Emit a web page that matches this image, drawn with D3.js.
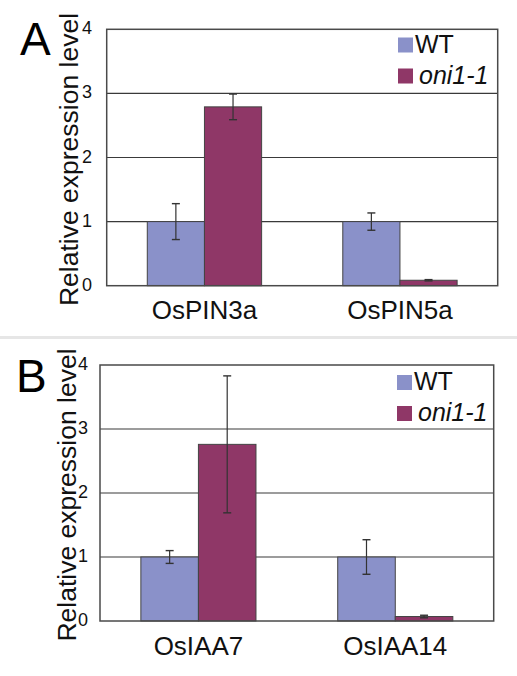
<!DOCTYPE html>
<html><head><meta charset="utf-8">
<script src="https://cdn.jsdelivr.net/npm/d3@7"></script>
<style>body{margin:0;background:#fff}svg{display:block}text{font-family:"Liberation Sans",Arial,Helvetica,sans-serif}</style>
</head><body>
<svg id="c" width="517" height="676"></svg>
<script>
const seriesNames = ["WT", "oni1-1"];
const colors = ["#8a91c9", "#8f3767"];
const yTicks = [0, 1, 2, 3, 4];
const categoriesA = ["OsPIN3a", "OsPIN5a"];
const wtA = [1.0, 1.0];
const wtErrA = [0.28, 0.135];
const oniA = [2.79, 0.085];
const oniErrA = [0.2, 0.01];
const categoriesB = ["OsIAA7", "OsIAA14"];
const wtB = [1.0, 1.0];
const wtErrB = [0.1, 0.27];
const oniB = [2.76, 0.07];
const oniErrB = [1.07, 0.02];

const svg = d3.select("#c");
svg.append("rect").attr("x", 0).attr("y", 336).attr("width", 517).attr("height", 3).attr("fill", "#e6e6e6");

function panel(cfg) {
  const g = svg.append("g");
  const x = d3.scaleBand().domain(cfg.cats).range([cfg.x0, cfg.x1]);
  const xs = d3.scaleBand().domain(seriesNames).range([0, x.bandwidth()]).paddingOuter(0.71).paddingInner(0);
  const y = d3.scaleLinear().domain([0, 4]).range([cfg.y0, cfg.y1]);
  g.selectAll(".grid").data(yTicks.slice(1, 4)).join("line")
    .attr("x1", cfg.x0).attr("x2", cfg.x1)
    .attr("y1", d => y(d)).attr("y2", d => y(d))
    .attr("stroke", "#3a3a3a").attr("stroke-width", 1.2);
  const data = cfg.cats.map((c, i) => ({c, vals: [
    {s: seriesNames[0], v: cfg.wt[i], e: cfg.wtErr[i]},
    {s: seriesNames[1], v: cfg.oni[i], e: cfg.oniErr[i]}]}));
  const grp = g.selectAll(".grp").data(data).join("g")
    .attr("transform", d => `translate(${x(d.c)},0)`);
  grp.selectAll("rect").data(d => d.vals).join("rect")
    .attr("x", d => xs(d.s)).attr("width", xs.bandwidth())
    .attr("y", d => y(d.v)).attr("height", d => y(0) - y(d.v))
    .attr("fill", (d, i) => colors[i]).attr("stroke", "#444").attr("stroke-width", 1);
  const eb = grp.selectAll(".eb").data(d => d.vals).join("g");
  eb.append("line")
    .attr("x1", d => xs(d.s) + xs.bandwidth() / 2).attr("x2", d => xs(d.s) + xs.bandwidth() / 2)
    .attr("y1", d => y(d.v + d.e)).attr("y2", d => y(d.v - d.e))
    .attr("stroke", "#333").attr("stroke-width", 1.2);
  ["+", "-"].forEach(sg => {
    eb.append("line")
      .attr("x1", d => xs(d.s) + xs.bandwidth() / 2 - 4).attr("x2", d => xs(d.s) + xs.bandwidth() / 2 + 4)
      .attr("y1", d => y(sg === "+" ? d.v + d.e : d.v - d.e)).attr("y2", d => y(sg === "+" ? d.v + d.e : d.v - d.e))
      .attr("stroke", "#333").attr("stroke-width", 1.4);
  });
  g.append("rect").attr("x", cfg.x0).attr("y", cfg.y1).attr("width", cfg.x1 - cfg.x0).attr("height", cfg.y0 - cfg.y1)
    .attr("fill", "none").attr("stroke", "#4a4a4a").attr("stroke-width", 1.5);
  g.append("text").attr("transform", `translate(${cfg.ylX},${(cfg.y0 + cfg.y1) / 2 + 2}) rotate(-90)`)
    .attr("text-anchor", "middle").attr("font-size", 26.5).attr("fill", "#111").text("Relative expression level");
  const yAxis = d3.axisLeft(y).tickValues(yTicks).tickFormat(d3.format("d")).tickSize(0).tickPadding(0);
  const ya = g.append("g").attr("transform", `translate(${cfg.tickX},0)`).call(yAxis);
  ya.select(".domain").remove();
  ya.attr("font-size", null).attr("font-family", null);
  ya.selectAll("text").style("font-size", "18px").attr("fill", "#111").attr("text-anchor", "end").attr("dy", "0.25em")
    .style("font-family", '"Liberation Sans",Arial,sans-serif');
  g.selectAll(".xl").data(cfg.cats).join("text")
    .attr("x", d => x(d) + x.bandwidth() / 2).attr("y", cfg.y0 + cfg.xlOff)
    .attr("text-anchor", "middle").attr("font-size", 26).attr("fill", "#111").text(d => d);
  g.append("text").attr("x", cfg.letterX).attr("y", cfg.letterY).attr("font-size", 46).attr("fill", "#000").text(cfg.letter);
  const lg = g.append("g");
  seriesNames.forEach((s, i) => {
    lg.append("rect").attr("x", cfg.legX).attr("y", cfg.legY + i * 31).attr("width", 15).attr("height", 15).attr("fill", colors[i]);
    lg.append("text").attr("x", cfg.legX + 17 + (i ? 4 : 0)).attr("y", cfg.legY + 15 + i * 31)
      .attr("font-size", 25).attr("fill", "#111").attr("font-style", i ? "italic" : "normal").text(s);
  });
}

panel({cats: categoriesA, wt: wtA, wtErr: wtErrA, oni: oniA, oniErr: oniErrA,
  x0: 106.7, x1: 497.7, y0: 285.7, y1: 29.3, tickX: 92, xlOff: 33, ylX: 78, letter: "A", letterX: 20, letterY: 55,
  legX: 398, legY: 37.5});
panel({cats: categoriesB, wt: wtB, wtErr: wtErrB, oni: oniB, oniErr: oniErrB,
  x0: 100, x1: 493.7, y0: 621, y1: 365, tickX: 88, xlOff: 34, ylX: 76, letter: "B", letterX: 16, letterY: 392,
  legX: 397, legY: 375});
</script>
</body></html>
